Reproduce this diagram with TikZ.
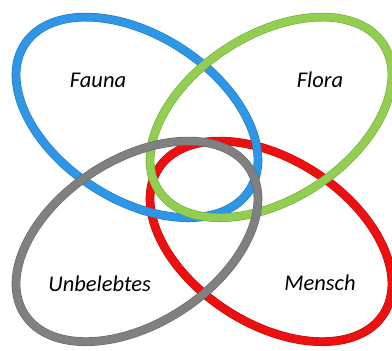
\documentclass[tikz,border=0pt]{standalone}
\usepackage{fontspec}
\setmainfont{Carlito}
\usepackage{tikz}
\usetikzlibrary{positioning}

\definecolor{faunablue}{RGB}{46,150,230}
\definecolor{floragreen}{RGB}{146,206,80}
\definecolor{menschred}{RGB}{236,16,16}
\definecolor{stonegray}{RGB}{128,128,128}

\begin{document}
\begin{tikzpicture}[
    ring/.style={line width=5.4pt, draw=#1,
                 preaction={draw=#1!80!black, line width=6.2pt}},
    tag/.style={font=\fontsize{16}{18}\selectfont\itshape, text=black},
]
\useasboundingbox (0,0) rectangle (9.8,8.775);

% ============================================================
% RINGS (back to front)
% ============================================================
\draw[ring=menschred, rotate around={-33:(6.775,2.74)}]
    (6.775,2.74) ellipse [x radius=3.35, y radius=2.05];
\draw[ring=faunablue, rotate around={-33:(3.425,5.84)}]
    (3.425,5.84) ellipse [x radius=3.35, y radius=2.05];
\draw[ring=floragreen, rotate around={33:(6.775,5.84)}]
    (6.775,5.84) ellipse [x radius=3.35, y radius=2.05];
\draw[ring=stonegray, rotate around={33:(3.425,2.74)}]
    (3.425,2.74) ellipse [x radius=3.35, y radius=2.05];

% ============================================================
% Labels
% ============================================================
\node[tag] (fauna) at (2.45,6.76) {Fauna};
\node[tag] (flora) at (8.0,6.77) {Flora};
\node[tag] (unbelebt) at (2.49,1.68) {Unbelebtes};
\node[tag] (mensch) at (8.0,1.70) {Mensch};

\end{tikzpicture}
\end{document}
